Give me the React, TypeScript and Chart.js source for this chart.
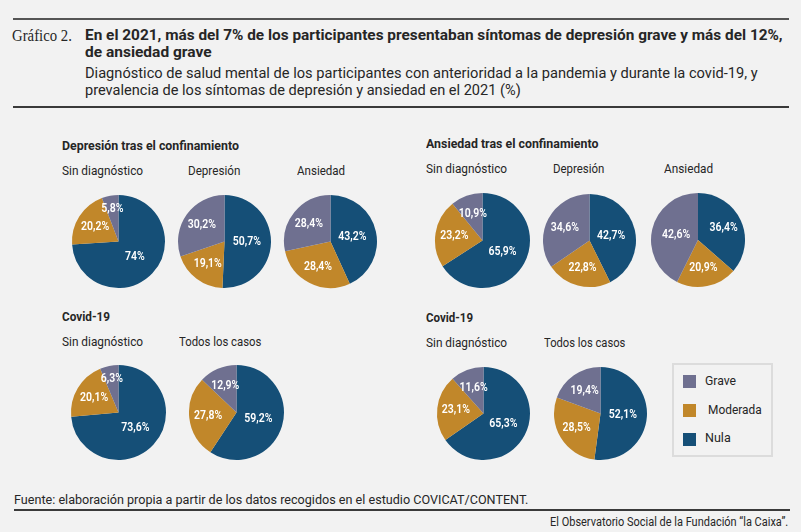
import React, { useEffect, useLayoutEffect, useRef, useState } from "react";
import { Chart, registerables } from "chart.js";

Chart.register(...registerables);

// ---------- DATA ----------
const SEVERITY = ["Nula", "Moderada", "Grave"];
const LEGEND_ORDER = ["Grave", "Moderada", "Nula"];

// Depresión tras el confinamiento (Nula, Moderada, Grave)
const depSinDiagnostico = [74, 20.2, 5.8];
const depDepresion = [50.7, 19.1, 30.2];
const depAnsiedad = [43.2, 28.4, 28.4];

// Ansiedad tras el confinamiento
const ansSinDiagnostico = [65.9, 23.2, 10.9];
const ansDepresion = [42.7, 22.8, 34.6];
const ansAnsiedad = [36.4, 20.9, 42.6];

// Covid-19 (depresión)
const covDepSinDiagnostico = [73.6, 20.1, 6.3];
const covDepTodos = [59.2, 27.8, 12.9];

// Covid-19 (ansiedad)
const covAnsSinDiagnostico = [65.3, 23.1, 11.6];
const covAnsTodos = [52.1, 28.5, 19.4];

const TITLE_1 = "En el 2021, más del 7% de los participantes presentaban síntomas de depresión grave y más del 12%,";
const TITLE_2 = "de ansiedad grave";
const SUB_1 = "Diagnóstico de salud mental de los participantes con anterioridad a la pandemia y durante la covid-19, y";
const SUB_2 = "prevalencia de los síntomas de depresión y ansiedad en el 2021 (%)";
const SOURCE = "Fuente: elaboración propia a partir de los datos recogidos en el estudio COVICAT/CONTENT.";
const CREDIT = "El Observatorio Social de la Fundación “la Caixa”.";

// ---------- STYLE ----------
const COLORS: Record<string, string> = {
  Nula: "#154f77",
  Moderada: "#c1872a",
  Grave: "#6f7090",
};
const BG = "#f2f2f2";
const TEXT = "#262626";
const FONT = "Roboto, 'Liberation Sans', sans-serif";

const fmt = (v: number) => String(v).replace(".", ",") + "%";

const labelPlugin = {
  id: "sliceLabels",
  afterDatasetsDraw(chart: any) {
    const ctx = chart.ctx;
    const meta = chart.getDatasetMeta(0);
    const data: number[] = chart.data.datasets[0].data;
    const total = data.reduce((a, b) => a + b, 0);
    meta.data.forEach((arc: any, i: number) => {
      const { x, y, startAngle, endAngle, outerRadius } = arc.getProps(
        ["x", "y", "startAngle", "endAngle", "outerRadius"],
        true
      );
      const frac = data[i] / total;
      const f = frac < 0.08 ? 0.72 : frac < 0.4 ? 0.6 : 0.48;
      const mid = (startAngle + endAngle) / 2;
      const lx = x + Math.cos(mid) * outerRadius * f;
      const ly = y + Math.sin(mid) * outerRadius * f;
      ctx.save();
      ctx.translate(lx, ly);
      ctx.scale(0.84, 1);
      ctx.fillStyle = "#ffffff";
      ctx.font = `600 12.5px ${FONT}`;
      ctx.textAlign = "center";
      ctx.textBaseline = "middle";
      ctx.fillText(fmt(data[i]), 0, 0);
      ctx.restore();
    });
  },
};

function Pie({ cx, cy, r, values }: { cx: number; cy: number; r: number; values: number[] }) {
  const ref = useRef<HTMLCanvasElement>(null);
  useEffect(() => {
    if (!ref.current) return;
    const chart = new Chart(ref.current, {
      type: "pie",
      data: {
        labels: SEVERITY,
        datasets: [
          {
            data: values,
            backgroundColor: SEVERITY.map((s) => COLORS[s]),
            borderWidth: 0,
            hoverOffset: 0,
            offset: 0,
          },
        ],
      },
      options: {
        animation: false,
        responsive: false,
        maintainAspectRatio: false,
        radius: r,
        layout: { padding: 0 },
        events: [],
        plugins: { legend: { display: false }, tooltip: { enabled: false } },
      } as any,
      plugins: [labelPlugin],
    });
    return () => chart.destroy();
  }, [values, r]);
  const size = 2 * r + 4;
  return (
    <div style={{ position: "absolute", left: cx - size / 2, top: cy - size / 2, width: size, height: size }}>
      <canvas ref={ref} width={size} height={size} style={{ width: size, height: size, display: "block" }} />
    </div>
  );
}

type TxtProps = {
  x: number;
  y: number;
  w: number;
  size: number;
  weight?: number;
  family?: string;
  color?: string;
  right?: boolean;
  children: string;
};

function Txt({ x, y, w, size, weight = 400, family = FONT, color = TEXT, right = false, children }: TxtProps) {
  const ref = useRef<HTMLSpanElement>(null);
  const [s, setS] = useState(1);
  useLayoutEffect(() => {
    if (ref.current) {
      const nat = ref.current.offsetWidth;
      if (nat > 0) setS(w / nat);
    }
  }, [w, children, size]);
  const style: React.CSSProperties = {
    position: "absolute",
    top: y - size * 0.6,
    fontSize: size,
    lineHeight: `${size * 1.2}px`,
    fontWeight: weight,
    fontFamily: family,
    color,
    whiteSpace: "nowrap",
    transform: `scaleX(${s})`,
    transformOrigin: right ? "right center" : "left center",
  };
  if (right) style.right = 801 - x;
  else style.left = x;
  return (
    <span ref={ref} style={style}>
      {children}
    </span>
  );
}

function HLine({ y, x1, x2, h, color }: { y: number; x1: number; x2: number; h: number; color: string }) {
  return <div style={{ position: "absolute", left: x1, top: y - h / 2, width: x2 - x1, height: h, background: color }} />;
}

export default function App() {
  return (
    <div
      style={{
        position: "absolute",
        left: 0,
        top: 0,
        width: 801,
        height: 532,
        background: BG,
        overflow: "hidden",
      }}
    >
      <HLine y={19} x1={13} x2={789} h={2} color="#555" />
      <Txt x={12} y={36} w={60} size={16} family="'Liberation Serif', 'DejaVu Serif', serif">
        Gráfico 2.
      </Txt>
      <Txt x={85} y={35} w={698} size={15.5} weight={700}>
        {TITLE_1}
      </Txt>
      <Txt x={85} y={52} w={127} size={15.5} weight={700}>
        {TITLE_2}
      </Txt>
      <Txt x={85} y={74} w={673} size={14.5}>
        {SUB_1}
      </Txt>
      <Txt x={85} y={91} w={436} size={14.5}>
        {SUB_2}
      </Txt>
      <HLine y={107} x1={13} x2={789} h={2.5} color="#3a3a3a" />

      {/* Depresión tras el confinamiento */}
      <Txt x={62} y={145} w={177} size={12.5} weight={700}>
        Depresión tras el confinamiento
      </Txt>
      <Txt x={62} y={171} w={81} size={13}>
        Sin diagnóstico
      </Txt>
      <Txt x={188} y={171} w={52} size={13}>
        Depresión
      </Txt>
      <Txt x={297} y={171} w={48} size={13}>
        Ansiedad
      </Txt>
      <Pie cx={118} cy={241} r={46.5} values={depSinDiagnostico} />
      <Pie cx={224} cy={241} r={46.5} values={depDepresion} />
      <Pie cx={330} cy={241} r={46.5} values={depAnsiedad} />

      {/* Ansiedad tras el confinamiento */}
      <Txt x={426} y={143} w={172} size={12.5} weight={700}>
        Ansiedad tras el confinamiento
      </Txt>
      <Txt x={426} y={169} w={81} size={13}>
        Sin diagnóstico
      </Txt>
      <Txt x={553} y={169} w={51} size={13}>
        Depresión
      </Txt>
      <Txt x={664} y={169} w={49} size={13}>
        Ansiedad
      </Txt>
      <Pie cx={482} cy={240} r={47.5} values={ansSinDiagnostico} />
      <Pie cx={589} cy={240} r={46.5} values={ansDepresion} />
      <Pie cx={698} cy={240} r={47} values={ansAnsiedad} />

      {/* Covid-19 left */}
      <Txt x={62} y={316} w={48} size={12.5} weight={700}>
        Covid-19
      </Txt>
      <Txt x={62} y={342} w={81} size={13}>
        Sin diagnóstico
      </Txt>
      <Txt x={179} y={342} w={82} size={13}>
        Todos los casos
      </Txt>
      <Pie cx={118} cy={412} r={47.5} values={covDepSinDiagnostico} />
      <Pie cx={236} cy={412} r={47.5} values={covDepTodos} />

      {/* Covid-19 right */}
      <Txt x={426} y={317} w={47} size={12.5} weight={700}>
        Covid-19
      </Txt>
      <Txt x={426} y={343} w={81} size={13}>
        Sin diagnóstico
      </Txt>
      <Txt x={544} y={343} w={81} size={13}>
        Todos los casos
      </Txt>
      <Pie cx={483} cy={413} r={46.5} values={covAnsSinDiagnostico} />
      <Pie cx={600} cy={413} r={46.5} values={covAnsTodos} />

      {/* Legend */}
      <div
        style={{
          position: "absolute",
          left: 672,
          top: 363,
          width: 101,
          height: 94,
          boxSizing: "border-box",
          border: "2px solid #dcdcdc",
        }}
      />
      {LEGEND_ORDER.map((s, i) => (
        <React.Fragment key={s}>
          <div
            style={{
              position: "absolute",
              left: 683,
              top: 375 + i * 29,
              width: 13,
              height: 13,
              background: COLORS[s],
            }}
          />
          <Txt x={s === "Moderada" ? 708 : 705} y={381 + i * 28.5} w={[31, 54, 26][i]} size={13}>
            {s}
          </Txt>
        </React.Fragment>
      ))}

      {/* Footer */}
      <Txt x={14} y={499} w={514} size={12.5}>
        {SOURCE}
      </Txt>
      <HLine y={510} x1={14} x2={790} h={2} color="#3a3a3a" />
      <Txt x={788} y={521.5} w={238} size={12.5} right>
        {CREDIT}
      </Txt>
    </div>
  );
}
